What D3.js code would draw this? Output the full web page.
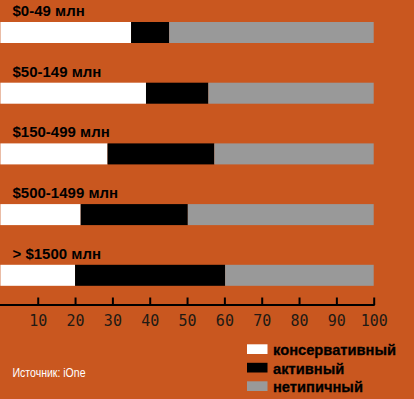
<!DOCTYPE html>
<html>
<head>
<meta charset="utf-8">
<script src="https://cdn.jsdelivr.net/npm/d3@7"></script>
<style>
  body { margin: 0; background: #c9571f; }
  svg { display: block; }
  .catLabel { font-family: "Liberation Sans", Arial, sans-serif; font-weight: bold; font-size: 15px; fill: #000; }
  .axis text { font-family: "DejaVu Sans Mono", monospace; font-size: 15px; fill: #221a14; }
  .legendText { font-family: "Liberation Sans", Arial, sans-serif; font-weight: bold; font-size: 14.7px; fill: #000; stroke: #000; stroke-width: 0.3px; }
  .source { font-family: "Liberation Sans Narrow", "Liberation Sans", sans-serif; font-size: 13px; fill: #fff; }
</style>
</head>
<body>
<script>
(function(){

//data
var categories = ["$0-49 млн", "$50-149 млн", "$150-499 млн", "$500-1499 млн", "> $1500 млн"];
var conservative = [35, 39, 28.7, 21.5, 20];
var active = [10.2, 16.7, 28.6, 28.7, 40.2];
var seriesNames = ["консервативный", "активный", "нетипичный"];
var tickValues = [10, 20, 30, 40, 50, 60, 70, 80, 90, 100];
var colors = ["#ffffff", "#000000", "#999999"];

var width = 414, height = 399;

var svg = d3.select("body")
    .append("svg")
    .attr("width", width)
    .attr("height", height);

//stack the three parts of each bar (third part fills to 100)
var rows = categories.map(function(c, i){
    return {
        cat: c,
        parts: [conservative[i], active[i], 100 - conservative[i] - active[i]]
    };
});

var xScale = d3.scaleLinear()
    .domain([0, 100])
    .range([0.4, 373.7]);

var yScale = d3.scaleBand()
    .domain(categories)
    .range([22, 285.8])
    .paddingInner(0.654)
    .paddingOuter(0);

var groups = svg.selectAll(".row")
    .data(rows)
    .enter()
    .append("g")
    .attr("class", "row");

groups.selectAll("rect")
    .data(function(d){
        var start = 0;
        return d.parts.map(function(v, k){
            var seg = { cat: d.cat, x0: start, x1: start + v, k: k };
            start += v;
            return seg;
        });
    })
    .enter()
    .append("rect")
    .attr("x", function(d){ return xScale(d.x0); })
    .attr("width", function(d){ return xScale(d.x1) - xScale(d.x0); })
    .attr("y", function(d){ return yScale(d.cat); })
    .attr("height", yScale.bandwidth())
    .style("fill", function(d){ return colors[d.k]; });

//category labels above each bar
groups.append("text")
    .attr("class", "catLabel")
    .attr("x", 12.5)
    .attr("y", function(d){ return yScale(d.cat) - 6; })
    .text(function(d){ return d.cat; });

//bottom axis with ticks pointing up
var axisY = 305;
var xAxis = d3.axisBottom(xScale)
    .tickValues(tickValues)
    .tickSize(-7.5)
    .tickPadding(10)
    .tickSizeOuter(0);

var axis = svg.append("g")
    .attr("class", "axis")
    .attr("transform", "translate(0," + axisY + ")")
    .call(xAxis);

axis.select(".domain").remove();
axis.append("line")
    .attr("x1", 0)
    .attr("x2", xScale(100) + 1)
    .attr("stroke", "#000")
    .attr("stroke-width", 2);
axis.selectAll(".tick line")
    .attr("stroke", "#000")
    .attr("stroke-width", 2);

//legend
var legend = svg.selectAll(".legend")
    .data(seriesNames)
    .enter()
    .append("g")
    .attr("class", "legend")
    .attr("transform", function(d, i){ return "translate(247," + (344.3 + i * 18.5) + ")"; });

legend.append("rect")
    .attr("width", 20.5)
    .attr("height", 9.7)
    .style("fill", function(d, i){ return colors[i]; });

legend.append("text")
    .attr("class", "legendText")
    .attr("x", 26)
    .attr("y", 11)
    .text(function(d){ return d; });

//source note
svg.append("text")
    .attr("class", "source")
    .attr("x", 12.5)
    .attr("y", 376.5)
    .attr("textLength", 73)
    .attr("lengthAdjust", "spacingAndGlyphs")
    .text("Источник: iOne");

})();
</script>
</body>
</html>
